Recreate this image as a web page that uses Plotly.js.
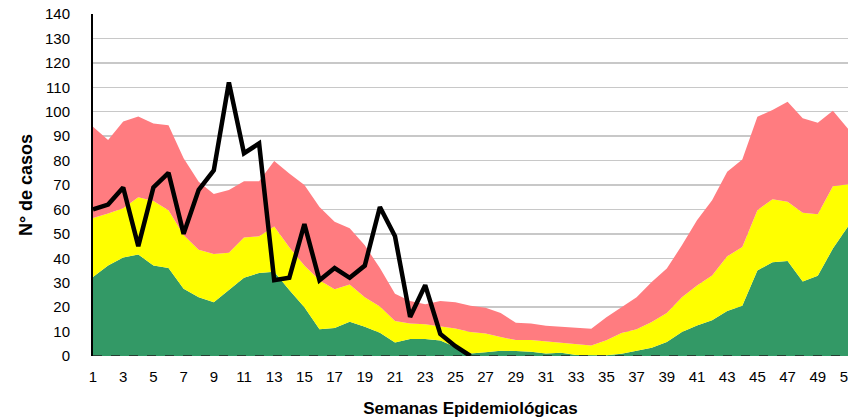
<!DOCTYPE html>
<html>
<head>
<meta charset="utf-8">
<script src="https://cdn.plot.ly/plotly-3.0.1.min.js"></script>
<style>
  html, body { margin: 0; padding: 0; background: #ffffff; }
  #chart { width: 848px; height: 418px; }
</style>
</head>
<body>
<div id="chart"></div>
<script>
// Epidemiological weeks shown (1..51)
const weeks = [];
for (let w = 1; w <= 51; w++) weeks.push(w);

// Tick labels on the x axis (odd weeks)
const tickWeeks = [1,3,5,7,9,11,13,15,17,19,21,23,25,27,29,31,33,35,37,39,41,43,45,47,49,51];

// Lower quartile (top of green zone)
const zonaExito = [32.3,37,40.3,41.5,37,36,27.5,24,22,27,32,34,34.5,27,20,11,11.5,14,12,9.5,
  5.5,7,7,6.3,3.5,1,1.5,2.2,2,1.7,1,1.3,0.4,0.2,0.3,0.9,2.3,3.4,5.7,9.8,
  12.5,14.6,18.4,20.6,35,38.4,38.9,30.5,32.8,44,53];

// Median (top of yellow zone)
const zonaSeguridad = [56.5,58.3,60.5,65,63.5,59.7,49.5,43.5,41.8,42.3,48.5,49,53,44.5,37,31,27.3,29.3,24.1,20.3,
  14.3,13.3,13,12,11.3,9.8,9.2,7.8,6.5,6.5,6,5.4,4.8,4.3,6.4,9.4,11,13.9,17.6,24.1,
  28.9,33,40.8,44.6,59.7,64.2,63.1,58.6,58,69.5,70.3];

// Upper quartile (top of red zone)
const zonaAlerta = [93.8,88.4,96,98,95.2,94.5,81,71.3,66.3,68,71.5,71.5,79.8,74.7,70,61,55,52.3,45.3,36,
  25.5,22.5,21.2,22.5,22,20.6,19.8,17.6,13.6,13.3,12.4,11.9,11.5,11.2,15.9,20,24.1,30.3,35.8,45.3,
  55.6,63.8,75.4,80.4,97.9,100.7,104.1,97.3,95.5,100.4,93];

// Cases of the current year (weeks 1..26)
const casosWeeks = [1,2,3,4,5,6,7,8,9,10,11,12,13,14,15,16,17,18,19,20,21,22,23,24,25,26];
const casos = [60,62,69,45,69,75,50,68,76,112,83,87,31,32,54,31,36,32,37,61,49,16,29,9,4,0];

const traces = [
  { x: weeks, y: zonaExito, type: 'scatter', mode: 'lines', name: 'Éxito',
    line: { width: 0, color: '#339966' }, fill: 'tozeroy', fillcolor: '#339966', hoverinfo: 'skip' },
  { x: weeks, y: zonaSeguridad, type: 'scatter', mode: 'lines', name: 'Seguridad',
    line: { width: 0, color: '#FFFF00' }, fill: 'tonexty', fillcolor: '#FFFF00', hoverinfo: 'skip' },
  { x: weeks, y: zonaAlerta, type: 'scatter', mode: 'lines', name: 'Alerta',
    line: { width: 0, color: '#FF7C80' }, fill: 'tonexty', fillcolor: '#FF7C80', hoverinfo: 'skip' },
  { x: casosWeeks, y: casos, type: 'scatter', mode: 'lines', name: 'Casos',
    line: { width: 4.5, color: '#000000' } }
];

const layout = {
  width: 848, height: 418,
  margin: { l: 93, r: 0, t: 14, b: 62 },
  paper_bgcolor: '#ffffff', plot_bgcolor: '#ffffff',
  showlegend: false,
  font: { family: 'Liberation Sans, Arial, sans-serif', color: '#000000' },
  xaxis: {
    range: [1, 51],
    tickmode: 'array', tickvals: tickWeeks, ticktext: tickWeeks.map(String),
    showgrid: false, zeroline: false, showline: false,
    ticks: '', ticklabelstandoff: 10, ticklabeloverflow: 'allow',
    tickfont: { family: 'Liberation Sans Narrow, Arial Narrow, Liberation Sans, sans-serif', size: 15, color: '#000000' },
    title: { text: 'Semanas Epidemiológicas', standoff: 20,
      font: { family: 'Liberation Sans, Arial, sans-serif', size: 17, color: '#000000', weight: 'bold' } }
  },
  yaxis: {
    range: [0, 140], dtick: 10,
    showgrid: true, gridcolor: '#C8C8C8', gridwidth: 1.5,
    zeroline: false, showline: true, linecolor: '#000000', linewidth: 2,
    ticks: '', ticklabelstandoff: 18,
    tickfont: { family: 'Liberation Sans, Arial, sans-serif', size: 15, color: '#000000' },
    title: { text: 'N° de casos', standoff: 8,
      font: { family: 'Liberation Sans, Arial, sans-serif', size: 18, color: '#000000', weight: 'bold' } }
  },
  shapes: [
    { type: 'line', xref: 'paper', yref: 'y', x0: 0, x1: 1, y0: 0, y1: 0,
      line: { color: '#222222', width: 1.5, dash: 'dash' }, layer: 'above' }
  ]
};

Plotly.newPlot('chart', traces, layout, { displayModeBar: false, staticPlot: true });
</script>
</body>
</html>
